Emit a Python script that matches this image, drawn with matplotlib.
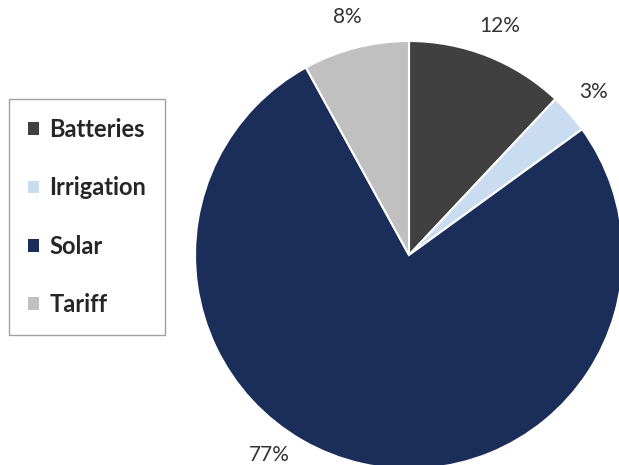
import numpy as np
import matplotlib
matplotlib.use("Agg")
import matplotlib.pyplot as plt
from matplotlib.patches import Patch

# data
categories = ["Batteries", "Irrigation", "Solar", "Tariff"]
shares = [12, 3, 77, 8]
colors = ["#404040", "#c9dcf0", "#1b2e59", "#c0c0c0"]

plt.rcParams["font.family"] = ["Lato", "DejaVu Sans"]

fig = plt.figure(figsize=(6.19, 4.65), dpi=100)
ax = fig.add_axes([0, 0, 1, 1])

# pie centre at (409, 255) px from top-left, radius ~214 px
R = 214.0
cx, cy = 409.0, 465.0 - 255.0

wedges, texts, autotexts = ax.pie(
    shares, colors=colors, startangle=90, counterclock=False,
    autopct="%d%%", pctdistance=1.15, radius=1.0,
    wedgeprops=dict(edgecolor="white", linewidth=1.5),
    textprops=dict(fontsize=15, color="#333333"),
)
ax.set_xlim(-cx / R, (619 - cx) / R)
ax.set_ylim(-cy / R, (465 - cy) / R)
ax.set_aspect("equal")
ax.axis("off")

# big slice label sits lower-left (its midpoint is off the canvas)
ang = np.deg2rad(-125)
autotexts[2].set_position((1.14 * np.cos(ang), 1.14 * np.sin(ang)))

handles = [Patch(facecolor=c, edgecolor="none") for c in colors]
leg = fig.legend(
    handles, categories, loc="upper left",
    bbox_to_anchor=(9 / 619, 1 - 99 / 465),
    frameon=True, fancybox=False, borderaxespad=0,
    prop=dict(size=17, weight="bold"),
    labelspacing=1.5, handlelength=0.45, handleheight=0.45,
    handletextpad=0.45, borderpad=0.8,
)
leg.get_frame().set_edgecolor("#8a8a8a")
leg.get_frame().set_linewidth(1.0)
for t in leg.get_texts():
    t.set_color("#262626")

fig.savefig("out.png", dpi=100)
